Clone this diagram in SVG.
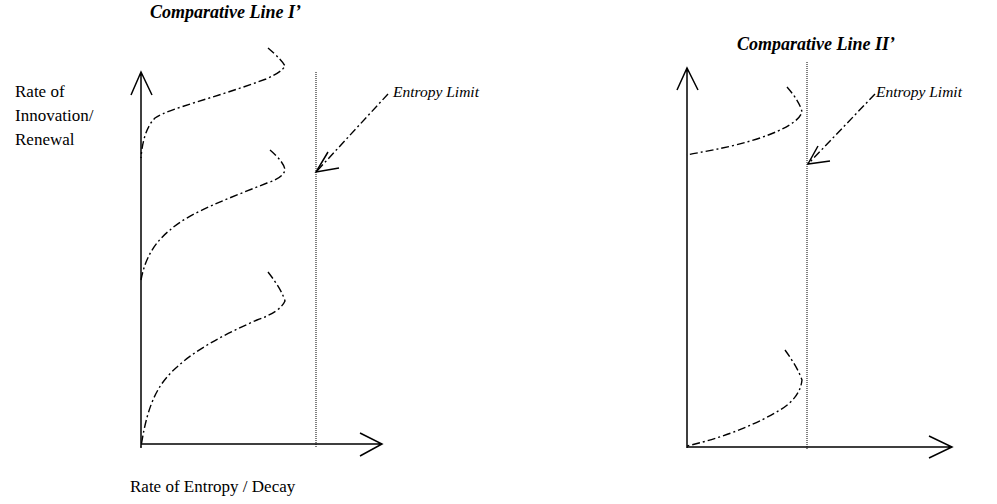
<svg xmlns="http://www.w3.org/2000/svg" width="997" height="504" viewBox="0 0 997 504">
<style>
.ax{fill:none;stroke:#000;stroke-width:1.5}
.dd{fill:none;stroke:#000;stroke-width:1.4;stroke-dasharray:8 3 2 3}
.dot{fill:none;stroke:#000;stroke-width:1;stroke-dasharray:1 1}
.t{font-family:"Liberation Serif","Times New Roman",serif;font-size:17px;fill:#000}
.ti{font-family:"Liberation Serif","Times New Roman",serif;font-size:15.5px;font-style:italic;fill:#000}
.h{font-family:"Liberation Serif","Times New Roman",serif;font-size:18px;font-style:italic;font-weight:bold;fill:#000}
</style>
<g id="chart1">
<text class="h" x="150" y="18">Comparative Line I’</text>
<path class="ax" d="M141,448 L141,72 M131,95 L141,72 L152,95"/>
<path class="ax" d="M141,444 L382,444 M360,433 L382,444 L360,456"/>
<path class="dot" d="M316,72 L316,448"/>
<text class="t" x="15" y="97">Rate of</text>
<text class="t" x="15" y="121">Innovation/</text>
<text class="t" x="15" y="145">Renewal</text>
<text class="t" x="130" y="492">Rate of Entropy / Decay</text>
</g>
<g id="curves1">
<path class="dd" d="M268,48 Q282,60 285,66 Q282,72 266,79 C215,98 170,108 155,118 C145,128 142,145 141,158"/>
<path class="dd" d="M270,150 Q284,162 285,170 Q283,178 267,183 C230,198 190,212 170,230 C155,242 145,258 141,280"/>
<path class="dd" d="M268,272 Q282,290 285,301 Q280,312 257,320 C225,334 195,350 177,367 C160,382 148,400 141,447"/>
</g>
<g id="label1">
<text class="ti" x="393" y="97">Entropy Limit</text>
</g>
<g id="connectors">
<path class="dd" d="M388,94 L316,172"/>
<path class="ax" d="M328,152 L316,172 L339,168"/>
<path class="dd" d="M875,94 L808,164"/>
<path class="ax" d="M818,146 L808,164 L830,161"/>
</g>
<g id="chart2">
<text class="h" x="737" y="50">Comparative Line II’</text>
<path class="ax" d="M687,448 L687,68 M677,90 L687,68 L698,90"/>
<path class="ax" d="M687,447 L952,447 M929,436 L952,447 L929,458"/>
<path class="dot" d="M807,62 L807,450"/>
</g>
<g id="curves2">
<path class="dd" d="M787,87 Q800,102 802,112 Q798,125 760,138 C730,148 700,152 687,155"/>
<path class="dd" d="M785,350 Q798,368 802,380 Q800,398 780,410 C760,422 730,436 687,446"/>
</g>
<g id="label2">
<text class="ti" x="876" y="97">Entropy Limit</text>
</g>
</svg>
